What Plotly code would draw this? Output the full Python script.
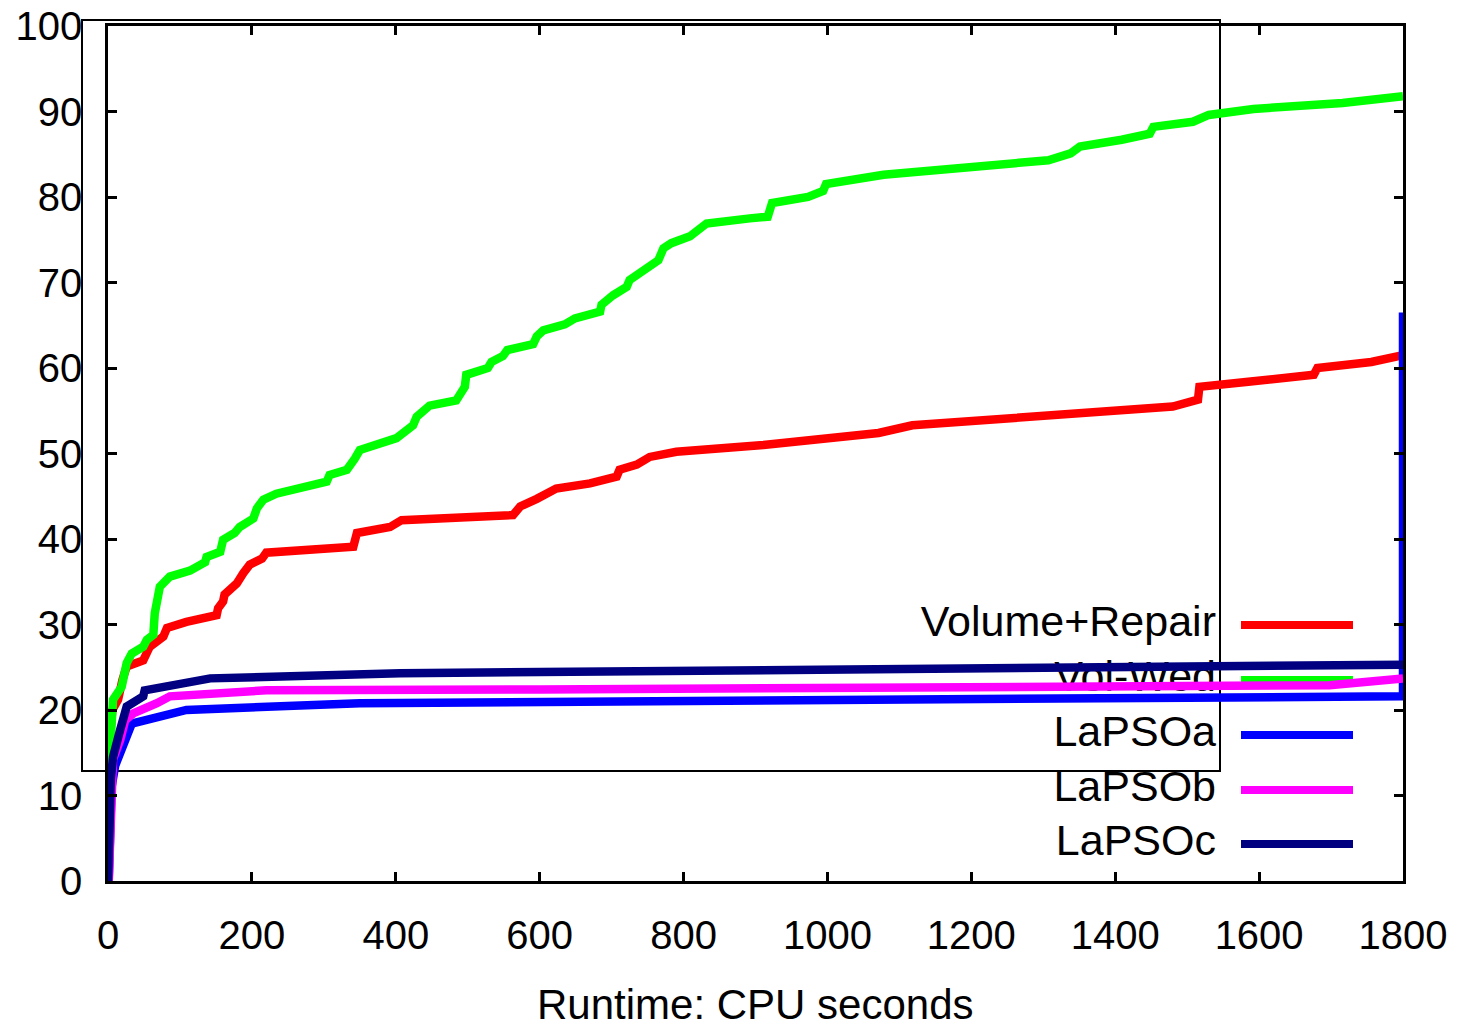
import plotly.graph_objects as go

# ---------------- data ----------------
vr_x = [0, 1, 3, 6, 14, 20, 26, 49, 58, 77, 82, 109, 151, 153, 160, 162, 179, 188, 197, 214, 220,
        341, 346, 392, 408, 563, 573, 596, 623, 670, 707, 711, 735, 753, 790, 911, 973, 1071, 1118,
        1196, 1301, 1480, 1515, 1517, 1585, 1676, 1681, 1756, 1800]
vr_y = [0, 10, 17, 20, 21.2, 23.5, 25.1, 25.8, 27.4, 28.6, 29.6, 30.3, 31.1, 31.9, 32.7, 33.5, 34.8,
        36.0, 37.0, 37.7, 38.4, 39.1, 40.7, 41.4, 42.2, 42.8, 43.8, 44.7, 45.9, 46.5, 47.3, 48.1,
        48.7, 49.6, 50.2, 51.0, 51.6, 52.4, 53.3, 53.8, 54.5, 55.5, 56.3, 57.8, 58.4, 59.2, 60.0,
        60.7, 61.5]

vw_x = [0, 1, 2, 4, 7, 19, 26, 33, 49, 54, 63, 65, 72, 86, 114, 128, 135, 137, 156, 160, 176, 183,
        202, 207, 216, 234, 304, 308, 332, 343, 350, 401, 413, 424, 429, 447, 484, 491, 496, 498,
        528, 533, 549, 555, 591, 596, 605, 635, 649, 684, 686, 702, 721, 725, 753, 765, 772, 783,
        809, 825, 832, 892, 917, 923, 973, 994, 998, 1078, 1196, 1307, 1338, 1351, 1409, 1448,
        1453, 1508, 1530, 1592, 1716, 1800]
vw_y = [0, 8, 13, 17, 21.2, 22.7, 25.5, 26.6, 27.4, 28.2, 28.8, 31.3, 34.4, 35.6, 36.3, 37.0, 37.3,
        37.9, 38.5, 39.9, 40.7, 41.4, 42.4, 43.6, 44.6, 45.3, 46.7, 47.5, 48.1, 49.4, 50.4, 51.8,
        52.6, 53.3, 54.3, 55.6, 56.2, 57.0, 57.8, 59.2, 60.0, 60.7, 61.4, 62.1, 62.8, 63.7, 64.4,
        65.1, 65.8, 66.6, 67.4, 68.5, 69.5, 70.3, 71.8, 72.6, 74.0, 74.6, 75.4, 76.3, 76.9, 77.5,
        77.7, 79.3, 80.0, 80.7, 81.5, 82.6, 83.6, 84.3, 85.1, 85.9, 86.7, 87.4, 88.2, 88.8, 89.6,
        90.3, 91.0, 91.8]

la_x = [1, 2, 5, 10, 17, 26, 33, 54, 109, 350, 800, 1200, 1800, 1800]
la_y = [0, 5, 11, 13.5, 15.3, 16.9, 18.4, 18.8, 20.0, 20.8, 21.1, 21.3, 21.6, 66.5]

lb_x = [1, 3, 5, 7, 17, 24, 35, 54, 68, 86, 220, 600, 1000, 1400, 1698, 1800]
lb_y = [0, 6, 11, 14.2, 16.5, 18.8, 19.6, 20.2, 20.8, 21.6, 22.3, 22.4, 22.6, 22.8, 22.9, 23.7]

lc_x = [0, 1, 2, 4, 7, 10, 17, 26, 40, 49, 51, 82, 142, 406, 800, 1200, 1800]
lc_y = [0, 5, 9, 12, 14.5, 15.7, 17.7, 20.4, 21.0, 21.6, 22.3, 22.7, 23.7, 24.3, 24.6, 24.9, 25.3]

names = ["Volume+Repair", "Vol-Wed", "LaPSOa", "LaPSOb", "LaPSOc"]
colors = ["#ff0000", "#00ff00", "#0000ff", "#ff00ff", "#000080"]
series = [(vr_x, vr_y), (vw_x, vw_y), (la_x, la_y), (lb_x, lb_y), (lc_x, lc_y)]

x_ticks = [0, 200, 400, 600, 800, 1000, 1200, 1400, 1600, 1800]
y_ticks = [0, 10, 20, 30, 40, 50, 60, 70, 80, 90, 100]
x_title = "Runtime: CPU seconds"

# ---------------- layout geometry ----------------
W, H = 1470, 1032
L, R, T, B = 108, 67, 26, 151
PW, PH = W - L - R, H - T - B
XR = [0, 1800]
YR = [0, 100]
FONT = "Liberation Sans, Arial, sans-serif"


def px_to_paper_x(px):
    return (px - L) / PW


def px_to_paper_y(py):
    return (H - B - py) / PH


def px_to_data_x(px):
    return XR[0] + (px - L) / PW * (XR[1] - XR[0])


def px_to_data_y(py):
    return YR[0] + (H - B - py) / PH * (YR[1] - YR[0])


fig = go.Figure()

# key labels (drawn first so curves overlay them, as in the reference)
key_rows = [625, 680, 735, 790, 844]
fig.add_trace(go.Scatter(
    x=[px_to_data_x(1216)] * len(names),
    y=[px_to_data_y(r) for r in key_rows],
    mode="text", text=names, textposition="middle left",
    textfont=dict(family=FONT, size=43, color="black"),
    hoverinfo="skip", showlegend=False, cliponaxis=False,
))

for (xs, ys), n, c in zip(series, names, colors):
    fig.add_trace(go.Scatter(x=xs, y=ys, mode="lines", name=n,
                             line=dict(color=c, width=8.5),
                             showlegend=False, cliponaxis=False))

shapes = []
# stray rectangle present in the reference
shapes.append(dict(type="rect", xref="paper", yref="paper",
                   x0=px_to_paper_x(82), x1=px_to_paper_x(1220),
                   y0=px_to_paper_y(771), y1=px_to_paper_y(20),
                   line=dict(color="black", width=2), layer="below"))
for r, c in zip(key_rows, colors):
    shapes.append(dict(type="line", xref="paper", yref="paper",
                       x0=px_to_paper_x(1241), x1=px_to_paper_x(1353),
                       y0=px_to_paper_y(r), y1=px_to_paper_y(r),
                       line=dict(color=c, width=8), layer="below"))

axis_common = dict(showline=True, linecolor="black", linewidth=2.5, mirror="ticks",
                   ticks="inside", ticklen=9, tickwidth=2.5, tickcolor="black",
                   showgrid=False, zeroline=False, automargin=False,
                   tickfont=dict(family=FONT, size=40, color="black"))

fig.update_layout(
    width=W, height=H,
    margin=dict(l=L, r=R, t=T, b=B, pad=0, autoexpand=False),
    paper_bgcolor="white", plot_bgcolor="white",
    shapes=shapes,
    annotations=[dict(text=x_title, xref="paper", yref="paper", x=0.5,
                      y=px_to_paper_y(1004), xanchor="center", yanchor="middle",
                      showarrow=False, font=dict(family=FONT, size=42, color="black"))],
    xaxis=dict(range=XR, tickmode="array", tickvals=x_ticks,
               ticktext=[str(v) for v in x_ticks], ticklabelstandoff=17,
               **axis_common),
    yaxis=dict(range=YR, tickmode="array", tickvals=y_ticks,
               ticktext=[str(v) for v in y_ticks], ticklabelstandoff=15,
               **axis_common),
)

fig.write_html("out.html")
